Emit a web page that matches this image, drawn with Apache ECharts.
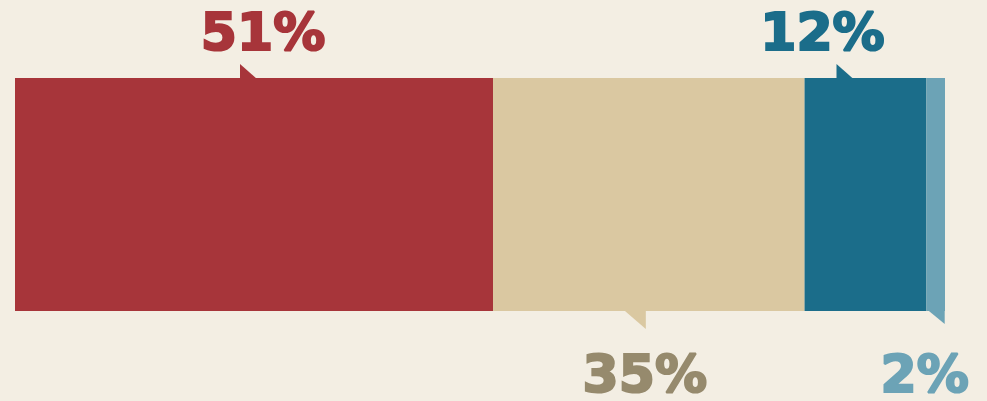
<!DOCTYPE html>
<html>
<head>
<meta charset="utf-8">
<script src="https://cdn.jsdelivr.net/npm/echarts@6/dist/echarts.min.js"></script>
<style>
  html, body { margin: 0; padding: 0; background: #F3EEE3; }
  #chart { width: 987px; height: 401px; }
</style>
</head>
<body>
<div id="chart"></div>
<script>
// ---- data ----
var categories = ['Share'];
var segmentNames = ['A', 'B', 'C', 'D'];
var segmentValues = [51.4, 33.5, 13.1, 2.0];
var labelTexts = ['51%', '35%', '12%', '2%'];

// ---- styles ----
var barColors = ['#A7353A', '#DAC8A1', '#1B6D8A', '#6CA3B6'];
var textColors = ['#A7353A', '#968A6D', '#1B6D8A', '#6CA3B6'];
var labelSide = ['top', 'bottom', 'top', 'bottom'];
// offsets in px relative to segment centre
var pointerDx = [-14, -3, -29, 9];
var pointerW = [17, 22, 17, 17];
var pointerH = [14, 18, 14, 13];
var labelDx = [9, -4, -43, -11];

var total = segmentValues.reduce(function (a, b) { return a + b; }, 0);

var barSeries = segmentValues.map(function (v, i) {
  return {
    name: segmentNames[i],
    type: 'bar',
    stack: 'total',
    barWidth: '100%',
    silent: true,
    itemStyle: { color: barColors[i] },
    data: [v],
    z: 2
  };
});

var starts = [];
var acc = 0;
segmentValues.forEach(function (v) { starts.push(acc); acc += v; });
var annoData = segmentValues.map(function (v, i) {
  return [starts[i], starts[i] + v, i];
});

var annoSeries = {
  type: 'custom',
  silent: true,
  z: 3,
  data: annoData,
  encode: { x: [0, 1] },
  renderItem: function (params, api) {
    var s = api.value(0), e = api.value(1), i = api.value(2);
    var p0 = api.coord([s, 0]);
    var p1 = api.coord([e, 0]);
    var bandH = api.size([0, 1])[1];
    var cx = (p0[0] + p1[0]) / 2;
    var top = p0[1] - bandH / 2;
    var bottom = p0[1] + bandH / 2;
    var px = cx + pointerDx[i];
    var w = pointerW[i], h = pointerH[i];
    var pts, ty;
    if (labelSide[i] === 'top') {
      pts = [[px, top - h], [px, top + 1], [px + w, top + 1]];
      ty = top - 41.5;
    } else {
      pts = [[px - w, bottom - 1], [px, bottom - 1], [px, bottom + h]];
      ty = bottom + 67.5;
    }
    return {
      type: 'group',
      children: [
        { type: 'polygon', shape: { points: pts }, style: { fill: barColors[i] } },
        {
          type: 'text',
          x: cx + labelDx[i],
          y: ty,
          style: {
            text: labelTexts[i],
            fill: textColors[i],
            stroke: textColors[i],
            lineWidth: 2.2,
            font: 'bold 52px "DejaVu Sans"',
            align: 'center',
            verticalAlign: 'middle'
          }
        }
      ]
    };
  }
};

var chart = echarts.init(document.getElementById('chart'), null, { renderer: 'canvas' });
chart.setOption({
  backgroundColor: '#F3EEE3',
  animation: false,
  grid: { left: 15, right: 42, top: 78, height: 233, containLabel: false },
  xAxis: { type: 'value', min: 0, max: total, show: false },
  yAxis: { type: 'category', data: categories, show: false },
  series: barSeries.concat([annoSeries])
});
</script>
</body>
</html>
